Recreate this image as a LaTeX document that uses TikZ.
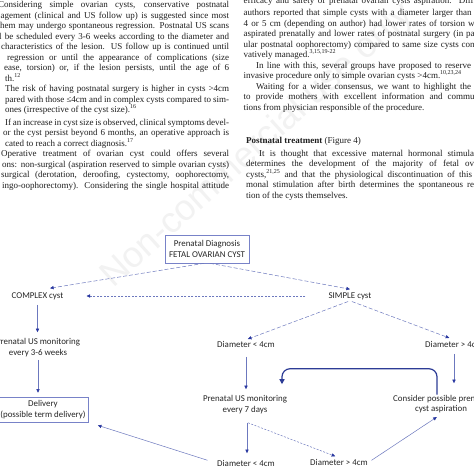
\documentclass[tikz,border=0pt]{standalone}
\usepackage{fontspec}
\setmainfont{Liberation Serif}
\newfontfamily\flowfont{Carlito}
\newfontfamily\wmfont{Liberation Sans}
\usetikzlibrary{arrows.meta}
\definecolor{linec}{RGB}{108,120,190}
\definecolor{headc}{RGB}{40,55,160}
\definecolor{boxc}{RGB}{120,130,200}
\definecolor{thickc}{RGB}{45,60,150}
\begin{document}
\begin{tikzpicture}[x=1pt,y=-1pt,
  pl/.style={anchor=base west, inner sep=0pt, font=\fontsize{9}{10.5}\selectfont, text=black!88},
  lbl/.style={font=\flowfont\fontsize{8.9}{10.5}\selectfont, align=center, inner sep=1pt, text=black!85},
  fbox/.style={lbl, draw=boxc, line width=0.6pt, minimum width=84pt, minimum height=28pt},
  conn/.style={draw=linec, line width=0.5pt, -{Triangle[length=3.6pt,width=3.2pt,color=headc]}},
  dconn/.style={conn, dash pattern=on 4pt off 2pt},
  fconn/.style={conn, dash pattern=on 2pt off 1.5pt},
  bigarrow/.style={draw=thickc, line width=1.2pt, rounded corners=8pt, -{Triangle[length=5pt,width=5pt,color=thickc]}}
]
\useasboundingbox (0,0) rectangle (474,474);
\fill[white] (0,0) rectangle (474,474);
% faint watermark
\node[rotate=42, text=black!5, font=\wmfont\fontsize{36}{36}\selectfont] (wm) at (258,146) {Non-commercial use only};
% left column
\node[pl] (l0) at (-2,7.7) {\makebox[231pt][s]{Considering simple ovarian cysts, conservative postnatal}};
\node[pl] (l1) at (0.5,18.2) {\makebox[228.5pt][s]{agement (clinical and US follow up) is suggested since most}};
\node[pl] (l2) at (0,28.7) {\makebox[229pt][s]{hem may undergo spontaneous regression. Postnatal US scans}};
\node[pl] (l3) at (-1,39.2) {\makebox[230pt][s]{l be scheduled every 3-6 weeks according to the diameter and}};
\node[pl] (l4) at (1,49.7) {\makebox[228pt][s]{characteristics of the lesion. US follow up is continued until}};
\node[pl] (l5) at (7,60.2) {\makebox[222pt][s]{regression or until the appearance of complications (size}};
\node[pl] (l6) at (4,70.6) {\makebox[225pt][s]{ease, torsion) or, if the lesion persists, until the age of 6}};
\node[pl] (l7) at (5,81.1) {th.\textsuperscript{12}};
\node[pl] (l8) at (5,91.6) {\makebox[224pt][s]{The risk of having postnatal surgery is higher in cysts >4cm}};
\node[pl] (l9) at (5,102.1) {\makebox[224pt][s]{pared with those ≤4cm and in complex cysts compared to sim-}};
\node[pl] (l10) at (5,112.6) {ones (irrespective of the cyst size).\textsuperscript{16}};
\node[pl] (l11) at (5,125) {\makebox[224pt][s]{If an increase in cyst size is observed, clinical symptoms devel-}};
\node[pl] (l12) at (3,135.5) {\makebox[226pt][s]{or the cyst persist beyond 6 months, an operative approach is}};
\node[pl] (l13) at (5,146) {cated to reach a correct diagnosis.\textsuperscript{17}};
\node[pl] (l14) at (1,156.5) {\makebox[228pt][s]{Operative treatment of ovarian cyst could offers several}};
\node[pl] (l15) at (2,167) {\makebox[227pt][s]{ons: non-surgical (aspiration reserved to simple ovarian cysts)}};
\node[pl] (l16) at (1,177.5) {\makebox[228pt][s]{surgical (derotation, deroofing, cystectomy, oophorectomy,}};
\node[pl] (l17) at (2,188) {\makebox[227pt][s]{ingo-oophorectomy). Considering the single hospital attitude}};
% right column
\node[pl] (r0) at (243.5,3.5) {\makebox[230pt][s]{efficacy and safety of prenatal ovarian cysts aspiration. Diff}};
\node[pl] (r1) at (243.5,15.5) {\makebox[228pt][s]{authors reported that simple cysts with a diameter larger than}};
\node[pl] (r2) at (243.5,26) {\makebox[231pt][s]{4 or 5 cm (depending on author) had lower rates of torsion w}};
\node[pl] (r3) at (243.5,36.5) {\makebox[231pt][s]{aspirated prenatally and lower rates of postnatal surgery (in pa}};
\node[pl] (r4) at (243.5,47) {\makebox[231pt][s]{ular postnatal oophorectomy) compared to same size cysts con}};
\node[pl] (r5) at (243.5,57.5) {vatively managed.\textsuperscript{3,15,19-22}};
\node[pl] (r6) at (256,68) {\makebox[215pt][s]{In line with this, several groups have proposed to reserve}};
\node[pl] (r7) at (243.5,78.5) {invasive procedure only to simple ovarian cysts >4cm.\textsuperscript{10,23,24}};
\node[pl] (r8) at (256,89) {\makebox[215pt][s]{Waiting for a wider consensus, we want to highlight the}};
\node[pl] (r9) at (243.5,99.5) {\makebox[231pt][s]{to provide mothers with excellent information and commu}};
\node[pl] (r10) at (243.5,110) {tions from physician responsible of the procedure.};
\node[pl] (r11) at (246,143) {\textbf{Postnatal treatment} (Figure 4)};
\node[pl] (r12) at (259,156) {\makebox[215pt][s]{It is thought that excessive maternal hormonal stimula}};
\node[pl] (r13) at (246,166.5) {\makebox[228pt][s]{determines the development of the majority of fetal ov}};
\node[pl] (r14) at (246,177) {\makebox[226pt][s]{cysts,\textsuperscript{21,25} and that the physiological discontinuation of this}};
\node[pl] (r15) at (246,187.5) {\makebox[228pt][s]{monal stimulation after birth determines the spontaneous re}};
\node[pl] (r16) at (246,198) {tion of the cysts themselves.};
% flowchart nodes
\node[fbox] (diag) at (207,249) {Prenatal Diagnosis\\FETAL OVARIAN CYST};
\node[lbl] (complex) at (37.5,296) {COMPLEX cyst};
\node[lbl] (simple) at (350,296) {SIMPLE cyst};
\node[lbl] (d1) at (246,344) {Diameter < 4cm};
\node[lbl] (d2) at (454,344) {Diameter > 4cm};
\node[lbl] (mon1) at (38,347.5) {Prenatal US monitoring\\every 3-6 weeks};
\node[lbl] (mon2) at (245,404.5) {Prenatal US monitoring\\every 7 days};
\node[lbl] (asp) at (441,404) {Consider possible prenatal\\cyst aspiration};
\node[fbox, minimum width=90pt, minimum height=25pt] (deliv) at (43,409.5) {Delivery\\(possible term delivery)};
\node[lbl] (d3) at (246,463) {Diameter < 4cm};
\node[lbl] (d4) at (339,462) {Diameter > 4cm};
% connectors
\draw[dconn] ([xshift=-3pt]diag.south) -- ([xshift=12.5pt,yshift=3pt]complex.north);
\draw[dconn] ([xshift=3pt]diag.south) -- ([yshift=2pt]simple.north);
\draw[fconn, shorten <=22pt, shorten >=22pt] (simple.west) -- (complex.east);
\draw[dconn, shorten <=2pt, shorten >=2pt] (simple.south) -- (d1.north);
\draw[dconn, shorten <=2pt, shorten >=5pt] (simple.south) -- (d2.north);
\draw[conn, shorten <=5.5pt, shorten >=10.5pt] (d2.south) -- (d2.south |- asp.north);
\draw[conn, shorten <=4pt, shorten >=5pt] (complex.south) -- (complex.south |- mon1.north);
\draw[conn, shorten <=2pt, shorten >=4pt] (mon1.south) -- (mon1.south |- deliv.north);
\draw[conn, shorten <=8.5pt, shorten >=5pt] (d1.south) -- (d1.south |- mon2.north);
\draw[conn, shorten <=8pt, shorten >=5.5pt] ([xshift=2pt]mon2.south) -- ([xshift=1pt]d3.north);
\draw[fconn, shorten >=4pt] ([xshift=3pt,yshift=-8pt]mon2.south) -- (d4.north);
\draw[conn, shorten <=9pt, shorten >=10pt] (d3.west) -- (deliv.south east);
\draw[conn, shorten <=3pt, shorten >=5pt] (d4.east) -- (asp.south);
\draw[bigarrow] ([xshift=-4pt,yshift=-1pt]asp.north) -- ++(0,-26) -| ([xshift=37pt,yshift=10pt]mon2.north);
\end{tikzpicture}
\end{document}
